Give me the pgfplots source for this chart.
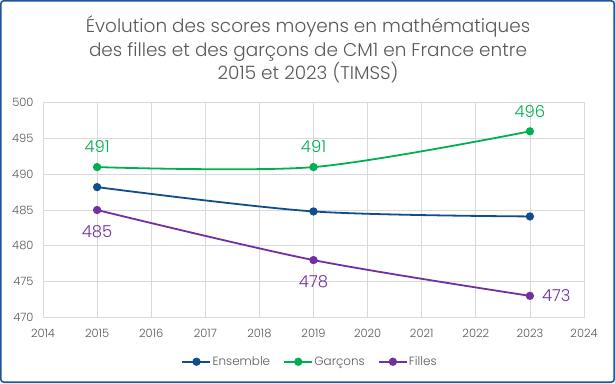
\documentclass[border=0pt]{standalone}
\usepackage{fontspec}
\setmainfont{Poppins Light}
\usepackage{pgfplots}
\pgfplotsset{compat=1.18}
\definecolor{ens}{HTML}{114D8C}
\definecolor{gar}{HTML}{00B050}
\definecolor{fil}{HTML}{7030A0}
\definecolor{txt}{HTML}{595959}
\definecolor{grd}{HTML}{D9D9D9}
\definecolor{frm}{HTML}{1F5799}
\begin{document}
\begin{tikzpicture}[x=1bp,y=1bp]
\useasboundingbox (-43,-65.7) rectangle (572,317.3);
\fill[white] (-43,-65.7) rectangle (572,317.3);
\draw[frm, line width=1.6bp, rounded corners=3bp] (-42.2,-64.9) rectangle (571.2,316.5);
\begin{scope}[text=txt, font=\fontsize{18.5}{22}\selectfont]
\node[anchor=base] at (265,285.3) {Évolution des scores moyens en mathématiques};
\node[anchor=base] at (265,261.3) {des filles et des garçons de CM1 en France entre};
\node[anchor=base] at (265,237.8) {2015 et 2023 (TIMSS)};
\end{scope}
\begin{axis}[at={(0,0)}, anchor=south west, scale only axis,
  width=541bp, height=214.6bp,
  xmin=2014, xmax=2024, ymin=470, ymax=500,
  xtick distance=1, ytick distance=5,
  grid=major, major grid style={grd, line width=0.8bp},
  axis line style={grd, line width=0.8bp}, tick style={draw=none},
  ticklabel style={text=txt, font=\fontsize{11.5}{13}\selectfont},
  x tick label style={yshift=-8bp},
  y tick label style={xshift=-6bp},
  /pgf/number format/assume math mode=true,
  /pgf/number format/1000 sep={},
  legend style={draw=none, fill=none, at={(0.493,-0.207)}, anchor=center,
    font=\fontsize{12}{14}\selectfont, text=txt,
    /tikz/every even column/.append style={column sep=12bp},
    nodes={inner sep=1.2bp}},
  legend columns=3,
  legend image code/.code={\draw[mark repeat=2,mark phase=2] plot coordinates {(0bp,0bp) (14bp,0bp) (28bp,0bp)};},
  every axis plot/.append style={line width=1.8bp, mark=*, mark size=3.2bp, mark options={solid}},
]
\addplot[ens, smooth] coordinates {(2015,488.2) (2019,484.8) (2023,484.1)};
\addlegendentry{Ensemble}
\addplot[gar, smooth] coordinates {(2015,491) (2019,491) (2023,496)};
\addlegendentry{Garçons}
\addplot[fil, smooth] coordinates {(2015,485) (2019,478) (2023,473)};
\addlegendentry{Filles}
% data labels
\addplot[draw=none, mark=none, forget plot, nodes near coords,
  every node near coord/.append style={text=gar, font=\fontsize{16.5}{18}\selectfont, anchor=south, yshift=10bp}]
  coordinates {(2015,491) (2019,491) (2023,496)};
\addplot[draw=none, mark=none, forget plot, nodes near coords,
  every node near coord/.append style={text=fil, font=\fontsize{16.5}{18}\selectfont, anchor=north, yshift=-11bp}]
  coordinates {(2015,485) (2019,478)};
\addplot[draw=none, mark=none, forget plot, nodes near coords,
  every node near coord/.append style={text=fil, font=\fontsize{16.5}{18}\selectfont, anchor=west, xshift=8bp}]
  coordinates {(2023,473)};
\end{axis}
\end{tikzpicture}
\end{document}
